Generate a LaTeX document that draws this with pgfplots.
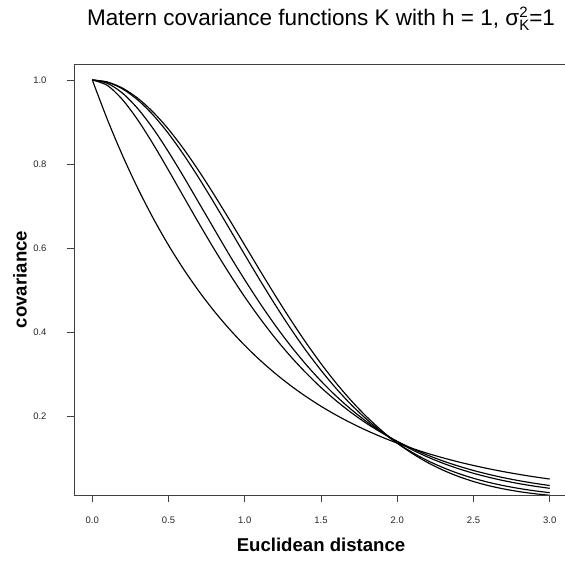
\documentclass[border=0pt]{standalone}
\usepackage{fontspec}
\setmainfont{Liberation Sans}
\usepackage{pgfplots}
\pgfplotsset{compat=1.18}
\begin{document}
\begin{tikzpicture}[x=1pt,y=1pt]
\begin{axis}[
  at={(0,0)}, anchor=south west, scale only axis,
  width=494pt, height=431pt,
  xmin=-0.12, xmax=3.12, ymin=0.0118, ymax=1.038,
  axis x line*=box, axis y line*=left,
  axis line style={draw=black!75, line width=0.9pt},
  xtick={0,0.5,1,1.5,2,2.5,3},
  ytick={0.2,0.4,0.6,0.8,1.0},
  xtick pos=lower, ytick pos=left,
  tick align=outside, major tick length=7pt,
  tick style={black!75, line width=0.9pt},
  /pgf/number format/assume math mode=true,
  /pgf/number format/.cd, fixed, fixed zerofill, precision=1, /pgfplots/.cd,
  ticklabel style={font=\fontsize{9.5}{10}\selectfont, text=black!85},
  xticklabel style={anchor=center, yshift=-18pt},
  yticklabel style={anchor=east, xshift=-17pt},
  clip=true,
  cycle list={{black, mark=none}},
  every axis plot/.append style={line width=1.15pt, line join=round, smooth, tension=0.5},
]
% exponential (nu = 0.5)
\addplot coordinates {(0,1) (0.1,0.9048) (0.2,0.8187) (0.3,0.7408) (0.4,0.6703) (0.5,0.6065) (0.6,0.5488) (0.7,0.4966) (0.8,0.4493) (0.9,0.4066) (1.0,0.3679) (1.1,0.3329) (1.2,0.3012) (1.3,0.2725) (1.4,0.2466) (1.5,0.2231) (1.6,0.2019) (1.7,0.1827) (1.8,0.1653) (1.9,0.1496) (2.0,0.1353) (2.1,0.1225) (2.2,0.1108) (2.3,0.1003) (2.4,0.0907) (2.5,0.0821) (2.6,0.0743) (2.7,0.0672) (2.8,0.0608) (2.9,0.0550) (3.0,0.0498)};
% nu = 1.5
\addplot coordinates {(0,1) (0.1,0.9867) (0.2,0.9522) (0.3,0.9039) (0.4,0.8468) (0.5,0.7849) (0.6,0.7213) (0.7,0.6582) (0.8,0.5969) (0.9,0.5384) (1.0,0.4833) (1.1,0.4323) (1.2,0.3851) (1.3,0.3421) (1.4,0.3031) (1.5,0.2677) (1.6,0.2361) (1.7,0.2075) (1.8,0.1820) (1.9,0.1596) (2.0,0.1397) (2.1,0.1221) (2.2,0.1065) (2.3,0.0928) (2.4,0.0808) (2.5,0.0702) (2.6,0.0609) (2.7,0.0528) (2.8,0.0458) (2.9,0.0397) (3.0,0.0343)};
% nu = 2.5
\addplot coordinates {(0,1) (0.1,0.9918) (0.2,0.9680) (0.3,0.9310) (0.4,0.8837) (0.5,0.8286) (0.6,0.7690) (0.7,0.7068) (0.8,0.6447) (0.9,0.5828) (1.0,0.5241) (1.1,0.4681) (1.2,0.4157) (1.3,0.3674) (1.4,0.3233) (1.5,0.2832) (1.6,0.2471) (1.7,0.2149) (1.8,0.1862) (1.9,0.1609) (2.0,0.1386) (2.1,0.1191) (2.2,0.1021) (2.3,0.0874) (2.4,0.0746) (2.5,0.0635) (2.6,0.0540) (2.7,0.0458) (2.8,0.0388) (2.9,0.0328) (3.0,0.0277)};
% large nu
\addplot coordinates {(0,1) (0.1,0.9945) (0.2,0.9783) (0.3,0.9518) (0.4,0.9160) (0.5,0.8722) (0.6,0.8216) (0.7,0.7659) (0.8,0.7066) (0.9,0.6455) (1.0,0.5838) (1.1,0.5231) (1.2,0.4644) (1.3,0.4086) (1.4,0.3565) (1.5,0.3087) (1.6,0.2652) (1.7,0.2262) (1.8,0.1918) (1.9,0.1616) (2.0,0.1353) (2.1,0.1128) (2.2,0.0934) (2.3,0.0771) (2.4,0.0632) (2.5,0.0516) (2.6,0.0419) (2.7,0.0339) (2.8,0.0273) (2.9,0.0218) (3.0,0.0173)};
% gaussian limit
\addplot coordinates {(0,1) (0.1,0.9950) (0.2,0.9802) (0.3,0.9560) (0.4,0.9231) (0.5,0.8825) (0.6,0.8353) (0.7,0.7827) (0.8,0.7261) (0.9,0.6670) (1.0,0.6065) (1.1,0.5461) (1.2,0.4868) (1.3,0.4296) (1.4,0.3753) (1.5,0.3247) (1.6,0.2780) (1.7,0.2357) (1.8,0.1979) (1.9,0.1645) (2.0,0.1353) (2.1,0.1103) (2.2,0.0889) (2.3,0.0710) (2.4,0.0561) (2.5,0.0439) (2.6,0.0340) (2.7,0.0261) (2.8,0.0198) (2.9,0.0149) (3.0,0.0111)};
\end{axis}
% titles and axis labels
\node[anchor=base, font=\fontsize{22.5}{24}\selectfont] at (247,469)
  {Matern covariance functions K with h = 1, σ\makebox[0pt][l]{\raisebox{8.5pt}{\fontsize{15}{15}\selectfont 2}}\raisebox{-5pt}{\fontsize{15}{15}\selectfont K}=1};
\node[anchor=base, font=\fontsize{18.6}{20}\selectfont\bfseries] at (247,-57) {Euclidean distance};
\node[rotate=90, anchor=center, font=\fontsize{18.6}{20}\selectfont\bfseries] at (-54,215.5) {covariance};
\pgfresetboundingbox
\path[use as bounding box] (-74,-66) rectangle (491,495);
\end{tikzpicture}
\end{document}
